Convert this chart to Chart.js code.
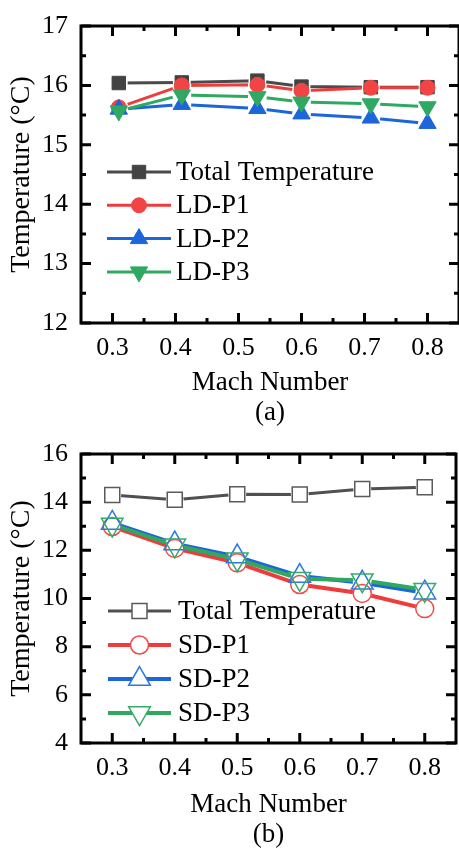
<!DOCTYPE html>
<html lang="en">
<head>
  <meta charset="UTF-8">
  <title>Temperature vs Mach Number</title>
  <script src="https://cdn.jsdelivr.net/npm/chart.js"></script>
  <style>
    body {
      margin: 0;
      background: #fff;
      overflow: hidden;
    }
    .panel {
      width: 470px;
    }
    canvas {
      display: block;
    }
  </style>
</head>
<body>
  <div class="panel"><canvas id="chartA" width="470" height="428"></canvas></div>
  <div class="panel"><canvas id="chartB" width="470" height="424"></canvas></div>

  <script>
    // (a) LD probes, measured Mach numbers
    const machA = [0.31, 0.41, 0.53, 0.60, 0.71, 0.80];
    const totalA = [16.04, 16.05, 16.08, 15.98, 15.97, 15.97];
    const ldP1 = [15.63, 16.00, 16.01, 15.91, 15.96, 15.96];
    const ldP2 = [15.60, 15.68, 15.61, 15.52, 15.45, 15.36];
    const ldP3 = [15.57, 15.84, 15.81, 15.72, 15.69, 15.64];

    // (b) SD probes
    const machB = [0.3, 0.4, 0.5, 0.6, 0.7, 0.8];
    const totalB = [14.30, 14.10, 14.33, 14.32, 14.55, 14.62];
    const sdP1 = [12.99, 12.08, 11.48, 10.58, 10.21, 9.58];
    const sdP2 = [13.14, 12.28, 11.74, 10.93, 10.65, 10.24];
    const sdP3 = [13.07, 12.21, 11.63, 10.82, 10.76, 10.36];

    const machTicks = [0.3, 0.4, 0.5, 0.6, 0.7, 0.8];
    const tempTicksA = [12, 13, 14, 15, 16, 17];
    const tempTicksB = [4, 6, 8, 10, 12, 14, 16];

    const SERIF = "'Times New Roman', 'Liberation Serif', 'DejaVu Serif', serif";

    function pts(xs, ys) {
      return xs.map((x, i) => ({ x: x, y: ys[i] }));
    }

    function markerPath(ctx, style, rot, r, x, y) {
      ctx.beginPath();
      if (style === 'rect') {
        const s = Math.SQRT1_2 * r;
        ctx.rect(x - s, y - s, 2 * s, 2 * s);
      } else if (style === 'circle') {
        ctx.arc(x, y, r, 0, Math.PI * 2);
      } else {
        let a = (rot || 0) * Math.PI / 180;
        ctx.moveTo(x + Math.sin(a) * r, y - Math.cos(a) * r);
        for (let k = 0; k < 2; k++) {
          a += Math.PI * 2 / 3;
          ctx.lineTo(x + Math.sin(a) * r, y - Math.cos(a) * r);
        }
        ctx.closePath();
      }
    }

    // lines stop short of their own markers (Origin look)
    const gappedLines = {
      id: 'gappedLines',
      beforeDatasetDraw(chart, args) {
        const ds = chart.data.datasets[args.index];
        const gap = ds.lineGap;
        if (!gap) return;
        const meta = args.meta;
        const ctx = chart.ctx;
        const area = chart.chartArea;
        ctx.save();
        ctx.beginPath();
        ctx.rect(0, 0, chart.width, chart.height);
        meta.data.forEach(p => {
          ctx.moveTo(p.x + gap, p.y);
          ctx.arc(p.x, p.y, gap, 0, Math.PI * 2);
        });
        ctx.clip('evenodd');
        meta.dataset.draw(ctx, area);
        ctx.restore();
        meta.data.forEach(p => p.draw(ctx, area));
        return false;
      }
    };

    // box frame with inward major/minor ticks on all four sides
    const frameTicks = {
      id: 'frameTicks',
      afterDatasetsDraw(chart, args, opts) {
        const { ctx, chartArea: a, scales } = chart;
        const x = scales.x, y = scales.y;
        ctx.save();
        ctx.strokeStyle = '#000';
        ctx.lineWidth = 3;
        ctx.strokeRect(a.left, a.top, a.right - a.left, a.bottom - a.top);

        const majX = x.ticks.map(t => t.value);
        const majY = y.ticks.map(t => t.value);
        const near = (v, list, eps) => list.some(m => Math.abs(m - v) < eps);

        const tickX = (px, len) => {
          ctx.beginPath();
          ctx.moveTo(px, a.bottom); ctx.lineTo(px, a.bottom - len);
          ctx.moveTo(px, a.top); ctx.lineTo(px, a.top + len);
          ctx.stroke();
        };
        const tickY = (py, len) => {
          ctx.beginPath();
          ctx.moveTo(a.left, py); ctx.lineTo(a.left + len, py);
          ctx.moveTo(a.right, py); ctx.lineTo(a.right - len, py);
          ctx.stroke();
        };

        majX.forEach(v => tickX(x.getPixelForValue(v), 10));
        majY.forEach(v => tickY(y.getPixelForValue(v), 10));

        for (let v = x.min; v < x.max + 1e-9; v += opts.xMinor) {
          if (!near(v, majX, 1e-6) && v > x.min + 1e-6 && v < x.max - 1e-6) tickX(x.getPixelForValue(v), 5);
        }
        for (let v = y.min; v < y.max + 1e-9; v += opts.yMinor) {
          if (!near(v, majY, 1e-6) && v > y.min + 1e-6 && v < y.max - 1e-6) tickY(y.getPixelForValue(v), 5);
        }
        ctx.restore();
      }
    };

    // Origin-style legend: line, marker, label
    const lineLegend = {
      id: 'lineLegend',
      afterDraw(chart, args, opts) {
        const ctx = chart.ctx;
        ctx.save();
        chart.data.datasets.forEach((ds, i) => {
          const yy = opts.top + i * opts.gap;
          ctx.strokeStyle = ds.borderColor;
          ctx.lineWidth = ds.borderWidth;
          ctx.beginPath();
          ctx.moveTo(opts.x0, yy);
          ctx.lineTo(opts.x1, yy);
          ctx.stroke();

          const mx = (opts.x0 + opts.x1) / 2;
          markerPath(ctx, ds.pointStyle, ds.pointRotation, ds.pointRadius, mx, yy);
          ctx.fillStyle = opts.hollow ? '#fff' : ds.pointBackgroundColor;
          ctx.fill();
          ctx.strokeStyle = ds.pointBorderColor;
          ctx.lineWidth = ds.pointBorderWidth;
          ctx.stroke();

          ctx.fillStyle = '#000';
          ctx.font = '27px ' + SERIF;
          ctx.textBaseline = 'middle';
          ctx.textAlign = 'left';
          ctx.fillText(ds.label, opts.textX, yy + 1);
        });
        ctx.restore();
      }
    };

    function makeOptions(cfg) {
      return {
        responsive: false,
        animation: false,
        events: [],
        layout: { padding: { top: cfg.padTop, right: 8, bottom: 0, left: 0 } },
        plugins: {
          legend: { display: false },
          tooltip: { enabled: false },
          frameTicks: { xMinor: 0.05, yMinor: cfg.yMinor },
          lineLegend: cfg.legend
        },
        scales: {
          x: {
            type: 'linear',
            min: 0.25,
            max: 0.85,
            afterBuildTicks: s => { s.ticks = machTicks.map(v => ({ value: v })); },
            afterFit: s => { s.height = cfg.xHeight; },
            grid: { display: false, drawTicks: false },
            border: { display: false },
            ticks: {
              padding: 12,
              color: '#000',
              font: { family: SERIF, size: 26, lineHeight: 1 },
              callback: v => v.toFixed(1)
            },
            title: {
              display: true,
              text: ['Mach Number', cfg.caption],
              color: '#000',
              font: { family: SERIF, size: 27, lineHeight: 30 / 27 },
              padding: { top: 0, bottom: cfg.titlePad }
            }
          },
          y: {
            min: cfg.yMin,
            max: cfg.yMax,
            afterBuildTicks: s => { s.ticks = cfg.yTicks.map(v => ({ value: v })); },
            afterFit: s => { s.width = 81; },
            grid: { display: false, drawTicks: false },
            border: { display: false },
            ticks: {
              padding: 13,
              color: '#000',
              font: { family: SERIF, size: 26, lineHeight: 1 },
              callback: v => String(v)
            },
            title: {
              display: true,
              text: 'Temperature (°C)',
              color: '#000',
              font: { family: SERIF, size: 28, lineHeight: 1 },
              padding: { top: 8, bottom: 0 }
            }
          }
        }
      };
    }

    new Chart(document.getElementById('chartA'), {
      type: 'line',
      data: {
        datasets: [
          { label: 'Total Temperature', data: pts(machA, totalA), borderColor: '#4a4a4a', borderWidth: 3, lineGap: 9,
            pointStyle: 'rect', pointRadius: 9.5, pointBackgroundColor: '#434343', pointBorderColor: '#434343', pointBorderWidth: 1, order: 4 },
          { label: 'LD-P1', data: pts(machA, ldP1), borderColor: '#ef3b3b', borderWidth: 3, lineGap: 9.5,
            pointStyle: 'circle', pointRadius: 7.5, pointBackgroundColor: '#f24444', pointBorderColor: '#f24444', pointBorderWidth: 1, order: 3 },
          { label: 'LD-P2', data: pts(machA, ldP2), borderColor: '#1c66d9', borderWidth: 3, lineGap: 9.5,
            pointStyle: 'triangle', pointRadius: 10, pointBackgroundColor: '#1c66d9', pointBorderColor: '#1c66d9', pointBorderWidth: 1, order: 2 },
          { label: 'LD-P3', data: pts(machA, ldP3), borderColor: '#2fa862', borderWidth: 3, lineGap: 9.5,
            pointStyle: 'triangle', pointRotation: 180, pointRadius: 10, pointBackgroundColor: '#2fa862', pointBorderColor: '#2fa862', pointBorderWidth: 1, order: 1 }
        ]
      },
      options: makeOptions({
        padTop: 21, xHeight: 105, titlePad: 0, caption: '(a)',
        yMin: 12, yMax: 17, yTicks: tempTicksA, yMinor: 0.5,
        legend: { x0: 107, x1: 171, textX: 176, top: 172, gap: 33.3, hollow: false }
      }),
      plugins: [gappedLines, frameTicks, lineLegend]
    });

    new Chart(document.getElementById('chartB'), {
      type: 'line',
      data: {
        datasets: [
          { label: 'Total Temperature', data: pts(machB, totalB), borderColor: '#505050', borderWidth: 3, lineGap: 9,
            pointStyle: 'rect', pointRadius: 10.6, pointBackgroundColor: 'rgba(0,0,0,0)', pointBorderColor: '#5a5a5a', pointBorderWidth: 1.5, order: 4 },
          { label: 'SD-P1', data: pts(machB, sdP1), borderColor: '#ef3b3b', borderWidth: 4, lineGap: 9.5,
            pointStyle: 'circle', pointRadius: 9, pointBackgroundColor: 'rgba(0,0,0,0)', pointBorderColor: '#f24a4a', pointBorderWidth: 1.5, order: 3 },
          { label: 'SD-P2', data: pts(machB, sdP2), borderColor: '#1c66d9', borderWidth: 4, lineGap: 9.5,
            pointStyle: 'triangle', pointRadius: 12.5, pointBackgroundColor: 'rgba(0,0,0,0)', pointBorderColor: '#2a78e4', pointBorderWidth: 1.5, order: 2 },
          { label: 'SD-P3', data: pts(machB, sdP3), borderColor: '#2fa862', borderWidth: 4, lineGap: 9.5,
            pointStyle: 'triangle', pointRotation: 180, pointRadius: 12.5, pointBackgroundColor: 'rgba(0,0,0,0)', pointBorderColor: '#36aa68', pointBorderWidth: 1.5, order: 1 }
        ]
      },
      options: makeOptions({
        padTop: 13, xHeight: 109, titlePad: 2, caption: '(b)',
        yMin: 4, yMax: 16, yTicks: tempTicksB, yMinor: 1,
        legend: { x0: 108, x1: 171, textX: 178, top: 183, gap: 34, hollow: true }
      }),
      plugins: [gappedLines, frameTicks, lineLegend]
    });
  </script>
</body>
</html>
